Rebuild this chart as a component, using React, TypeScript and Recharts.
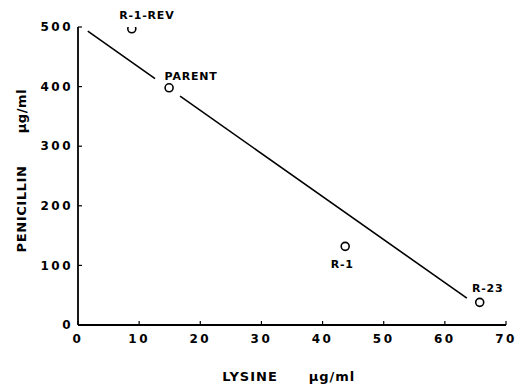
import React from 'react';
import { ScatterChart, Scatter, XAxis, YAxis, Label, LabelList } from 'recharts';

// strains: lysine produced vs penicillin produced (both µg/ml)
const strainNames = ['R-1-REV', 'PARENT', 'R-1', 'R-23'];
const lysineUgMl = [8.8, 14.9, 43.7, 65.7];
const penicillinUgMl = [497, 398, 132, 38];

// fitted line, drawn in two pieces (gap left for the PARENT label)
const fitLysine = [1.6, 12.6, 16.7, 63.6];
const fitPenicillin = [493, 413.5, 384, 45];

const xTicks = [0, 10, 20, 30, 40, 50, 60, 70];
const yTicks = [0, 100, 200, 300, 400, 500];

const strains = strainNames.map((name, i) => ({ name, x: lysineUgMl[i], y: penicillinUgMl[i] }));
const fitA = [0, 1].map(i => ({ x: fitLysine[i], y: fitPenicillin[i] }));
const fitB = [2, 3].map(i => ({ x: fitLysine[i], y: fitPenicillin[i] }));

const font = '"DejaVu Sans", sans-serif';

// where each name sits relative to its circle
const labelPlace: Record<string, [number, number]> = {
  'R-1-REV': [15, -10],
  PARENT: [22, -8],
  'R-1': [-3, 22],
  'R-23': [8, -10],
};

const Ring = (p: any) => (
  <circle cx={p.cx} cy={p.cy} r={4} fill="#fff" stroke="#000" strokeWidth={1.6} />
);

const StrainLabel = (p: any) => {
  const [dx, dy] = labelPlace[p.value] || [0, -10];
  return (
    <text x={p.x + p.width / 2 + dx} y={p.y + p.height / 2 + dy} textAnchor="middle"
      fontFamily={font} fontWeight="bold" fontSize={11} letterSpacing={0.8} fill="#000">
      {p.value}
    </text>
  );
};

const tickStyle = { fontFamily: font, fontWeight: 'bold', fontSize: 12, fill: '#000', letterSpacing: 2.5 } as any;

const XTitle = ({ viewBox }: any) => (
  <g fontFamily={font} fontWeight="bold" fontSize={13} fill="#000" letterSpacing={1}>
    <text x={viewBox.x + 172} y={viewBox.y + 56} textAnchor="middle">LYSINE</text>
    <text x={viewBox.x + 254} y={viewBox.y + 56} textAnchor="middle">μg/ml</text>
  </g>
);

const YTitle = ({ viewBox }: any) => {
  const cx = viewBox.x + 26;
  return (
    <g fontFamily={font} fontWeight="bold" fontSize={13} fill="#000" letterSpacing={0.6}>
      <text x={cx} y={209} textAnchor="middle" transform={`rotate(-90 ${cx} 209)`}>PENICILLIN</text>
      <text x={cx} y={111} textAnchor="middle" transform={`rotate(-90 ${cx} 111)`}>μg/ml</text>
    </g>
  );
};

export default function App() {
  return (
    <div style={{ position: 'fixed', left: 0, top: 0, background: '#fff' }}>
      <ScatterChart width={520} height={387} margin={{ top: 27, right: 14, bottom: 0, left: 0 }}>
        <XAxis type="number" dataKey="x" domain={[0, 70]} ticks={xTicks} interval={0}
          height={62} allowDataOverflow
          axisLine={{ stroke: '#000', strokeWidth: 1.8 }} tickLine={{ stroke: '#000', strokeWidth: 1.2 }}
          tickSize={-4} tickMargin={13} tick={tickStyle}>
          <Label content={XTitle} />
        </XAxis>
        <YAxis type="number" dataKey="y" domain={[0, 500]} ticks={yTicks} interval={0}
          width={78} allowDataOverflow
          axisLine={{ stroke: '#000', strokeWidth: 1.8 }} tickLine={{ stroke: '#000', strokeWidth: 1.2 }}
          tickSize={-4} tickMargin={9} tick={tickStyle}>
          <Label content={YTitle} />
        </YAxis>
        <Scatter data={fitA} line={{ stroke: '#000', strokeWidth: 1.6 }} shape={() => <g />} isAnimationActive={false} />
        <Scatter data={fitB} line={{ stroke: '#000', strokeWidth: 1.6 }} shape={() => <g />} isAnimationActive={false} />
        <Scatter data={strains} shape={Ring} isAnimationActive={false}>
          <LabelList dataKey="name" content={StrainLabel} />
        </Scatter>
      </ScatterChart>
    </div>
  );
}
